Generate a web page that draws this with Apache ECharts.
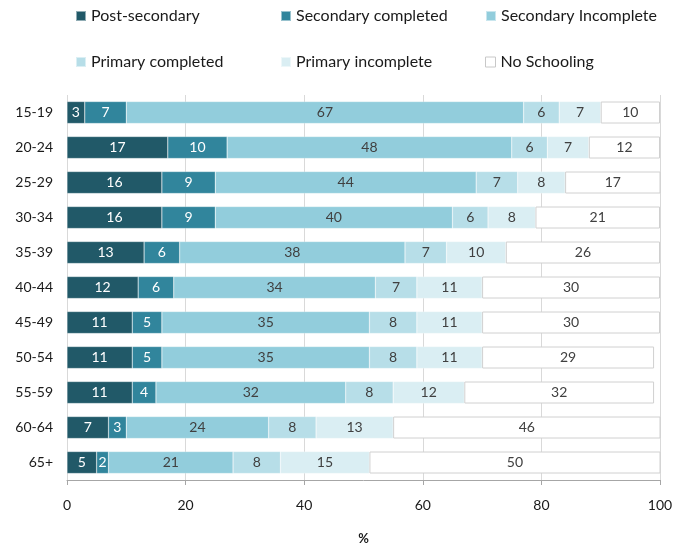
<!DOCTYPE html>
<html>
<head>
<meta charset="utf-8">
<script src="https://cdn.jsdelivr.net/npm/echarts@6/dist/echarts.min.js"></script>
<style>
  html, body { margin: 0; padding: 0; background: #fff; }
  #chart { width: 682px; height: 544px; }
</style>
</head>
<body>
<div id="chart"></div>
<script>
// Age groups (top to bottom)
const ageGroups = ['15-19', '20-24', '25-29', '30-34', '35-39', '40-44', '45-49', '50-54', '55-59', '60-64', '65+'];

// Educational attainment shares, %
const postSecondary      = [3, 17, 16, 16, 13, 12, 11, 11, 11, 7, 5];
const secondaryCompleted = [7, 10, 9, 9, 6, 6, 5, 5, 4, 3, 2];
const secondaryIncomplete = [67, 48, 44, 40, 38, 34, 35, 35, 32, 24, 21];
const primaryCompleted   = [6, 6, 7, 6, 7, 7, 8, 8, 8, 8, 8];
const primaryIncomplete  = [7, 7, 8, 8, 10, 11, 11, 11, 12, 13, 15];
const noSchooling        = [10, 12, 17, 21, 26, 30, 30, 29, 32, 46, 50];

const xTicks = [0, 20, 40, 60, 80, 100];

const FONT = 'Lato, "Open Sans", sans-serif';

const seriesDefs = [
  { name: 'Post-secondary', data: postSecondary, color: '#215968', text: '#ffffff' },
  { name: 'Secondary completed', data: secondaryCompleted, color: '#31859c', text: '#ffffff' },
  { name: 'Secondary Incomplete', data: secondaryIncomplete, color: '#92cddc', text: '#404040' },
  { name: 'Primary completed', data: primaryCompleted, color: '#b7dee8', text: '#404040' },
  { name: 'Primary incomplete', data: primaryIncomplete, color: '#daeef3', text: '#404040' },
  { name: 'No Schooling', data: noSchooling, color: '#ffffff', text: '#404040', border: '#d0d0d0' }
];

// Legend laid out as two rows of three fixed columns
const legendCols = [70, 275, 480];
const legendRows = [3, 49];
const legends = seriesDefs.map((s, i) => ({
  data: [s.name],
  left: legendCols[i % 3],
  top: legendRows[Math.floor(i / 3)],
  itemWidth: 10,
  itemHeight: 10,
  icon: 'rect',
  selectedMode: false,
  itemStyle: s.border ? { borderColor: '#c8c8c8', borderWidth: 1 } : {},
  textStyle: { fontFamily: FONT, fontSize: 16, color: '#1a1a1a' }
}));

const chart = echarts.init(document.getElementById('chart'), null, { renderer: 'canvas' });

chart.setOption({
  animation: false,
  backgroundColor: '#ffffff',
  legend: legends,
  grid: { left: 67, right: 22, top: 95, bottom: 64, containLabel: false, outerBoundsMode: 'none' },
  xAxis: {
    type: 'value',
    min: 0,
    max: 100,
    interval: 20,
    name: '%',
    nameLocation: 'middle',
    nameGap: 52,
    nameTextStyle: { fontFamily: FONT, fontSize: 13, fontWeight: 'bold', color: '#1a1a1a' },
    axisLine: { show: true, lineStyle: { color: '#a6a6a6', width: 1 } },
    axisTick: { show: true, length: 5, lineStyle: { color: '#a6a6a6' } },
    axisLabel: {
      fontFamily: FONT, fontSize: 14, color: '#1a1a1a', margin: 18,
      formatter: v => (xTicks.includes(v) ? String(v) : '')
    },
    splitLine: { show: true, lineStyle: { color: '#d9d9d9', width: 1 } }
  },
  yAxis: {
    type: 'category',
    data: ageGroups,
    inverse: true,
    axisLine: { show: false },
    axisTick: { show: false },
    axisLabel: { fontFamily: FONT, fontSize: 14, color: '#1a1a1a', margin: 14 }
  },
  series: seriesDefs.map(s => ({
    name: s.name,
    type: 'bar',
    stack: 'total',
    barWidth: 22,
    data: s.data,
    itemStyle: {
      color: s.color,
      borderColor: s.border || 'rgba(255,255,255,0.5)',
      borderWidth: s.border ? 1 : 0.5
    },
    label: {
      show: true,
      position: 'inside',
      fontFamily: FONT,
      fontSize: 14,
      color: s.text
    }
  }))
});
</script>
</body>
</html>
